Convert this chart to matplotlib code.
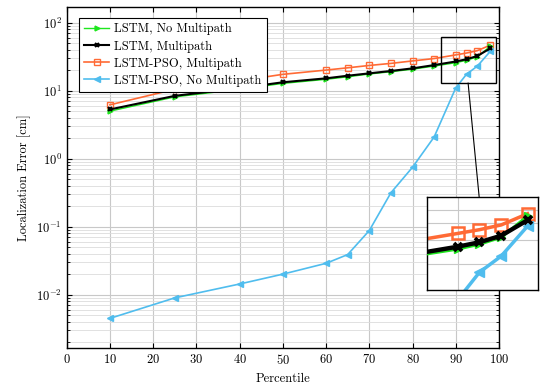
import matplotlib
matplotlib.use("Agg")
import matplotlib.pyplot as plt
from matplotlib.patches import Rectangle, ConnectionPatch

plt.rcParams['font.family'] = ['cmr10', 'DejaVu Serif']
plt.rcParams['mathtext.fontset'] = 'cm'
plt.rcParams['axes.formatter.use_mathtext'] = True

x_main = [10, 25, 40, 50, 60, 65, 70, 75, 80, 85, 90, 92.5, 95, 98]
lstm_nomp = [5.0, 8.1, 10.5, 12.8, 14.7, 16.0, 17.6, 19.0, 20.7, 23.0, 25.8, 28.0, 31.5, 45.0]
lstm_mp = [5.3, 8.4, 10.9, 13.3, 15.2, 16.6, 18.0, 19.5, 21.3, 23.8, 26.9, 29.0, 32.4, 42.0]
pso_mp = [6.2, 10.5, 14.0, 17.4, 20.1, 21.7, 23.5, 25.2, 27.4, 29.7, 33.6, 35.8, 38.8, 46.8]
pso_nomp = [0.0045, 0.0090, 0.0144, 0.0201, 0.029, 0.039, 0.088, 0.316, 0.75, 2.09, 11.0, 17.5, 23.0, 38.0]

labels = ["LSTM, No Multipath", "LSTM, Multipath", "LSTM-PSO, Multipath", "LSTM-PSO, No Multipath"]
colors = ["#1ee61e", "#000000", "#ff6a35", "#50bdee"]

zoom_x = (86.5, 99.2)
zoom_y = (13.0, 62.0)

fig = plt.figure(figsize=(5.4, 3.83), dpi=100)
ax = fig.add_axes([66.7/540, 1-348/383, (499-66.7)/540, (348-7)/383])


def draw(a, lwscale=1.0, msscale=1.0):
    a.plot(x_main, lstm_nomp, color=colors[0], marker='>', ms=3.5*msscale,
           lw=1.0*lwscale, label=labels[0], zorder=3)
    a.plot(x_main, lstm_mp, color=colors[1], marker='x', ms=3*msscale, mew=1.5*msscale,
           lw=1.5*lwscale, label=labels[1], zorder=4)
    a.plot(x_main, pso_mp, color=colors[2], marker='s', ms=5*msscale, mfc='none',
           mew=1.0*msscale, lw=1.2*lwscale, label=labels[2], zorder=2)
    a.plot(x_main, pso_nomp, color=colors[3], marker='<', ms=4*msscale,
           lw=1.2*lwscale, label=labels[3], zorder=2)


draw(ax)
ax.set_yscale('log')
ax.set_xlim(0, 100)
ax.set_ylim(1.65e-3, 1.7e2)
ax.set_xticks(range(0, 101, 10))
ax.grid(True, which='major', color='#c8c8c8', lw=0.8)
ax.grid(True, which='minor', axis='y', color='#dcdcdc', lw=0.6)
ax.set_axisbelow(True)
ax.tick_params(which='both', direction='in', top=True, right=True, labelsize=9)
ax.tick_params(which='minor', length=2)
ax.set_xlabel("Percentile", fontsize=9)
ax.set_ylabel("Localization Error [cm]", fontsize=9)
for s in ax.spines.values():
    s.set_linewidth(1.0)

leg = ax.legend(loc='upper left', bbox_to_anchor=(0.015, 0.985), fontsize=9,
                frameon=True, fancybox=False, edgecolor='black', framealpha=1,
                handlelength=2.0, borderpad=0.4, labelspacing=0.4, handletextpad=0.4)
leg.get_frame().set_linewidth(0.8)

rect = Rectangle((zoom_x[0], zoom_y[0]), zoom_x[1]-zoom_x[0], zoom_y[1]-zoom_y[0],
                 fill=False, edgecolor='black', lw=1.0, zorder=6)
ax.add_patch(rect)

ins = fig.add_axes([427/540, 1-290/383, 111/540, 93/383])
draw(ins, lwscale=2.1, msscale=1.8)
ins.set_yscale('log')
ins.set_xlim(*zoom_x)
ins.set_ylim(*zoom_y)
ins.set_xticks(range(90, 100, 10))
ins.set_xticklabels([])
ins.set_yticks([20, 30, 40, 50])
ins.set_yticks([], minor=True)
ins.set_yticklabels([])
ins.tick_params(which='both', length=0)
ins.grid(True, which='major', color='#c8c8c8', lw=0.8)
ins.set_axisbelow(True)
for s in ins.spines.values():
    s.set_linewidth(1.0)

con = ConnectionPatch(xyA=((zoom_x[0]+zoom_x[1])/2, zoom_y[0]), coordsA=ax.transData,
                      xyB=(0.47, 1.0), coordsB=ins.transAxes, color='black', lw=0.8)
fig.add_artist(con)

fig.savefig("out.png", dpi=100)
